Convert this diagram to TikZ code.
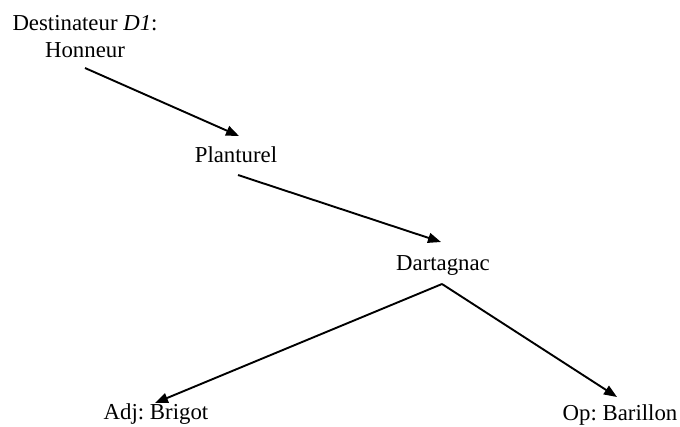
\documentclass[tikz,border=0pt]{standalone}
\usepackage{fontspec}
\setmainfont{Liberation Serif}
\usetikzlibrary{arrows.meta}
\frenchspacing
\begin{document}
\begin{tikzpicture}[x=1pt,y=-1pt,
  lbl/.style={anchor=base,inner sep=0pt,font=\fontsize{22.8}{27}\selectfont},
  conn/.style={line width=1.9pt,-{Triangle[length=13pt,width=10pt]}}]
\useasboundingbox (0,0) rectangle (680,426);
\node[lbl] (d1a) at (85,30) {Destinateur \textit{D1}:};
\node[lbl] (d1b) at (85,57) {Honneur};
\node[lbl] (plant) at (236,162) {Planturel};
\node[lbl] (dart) at (443,270) {Dartagnac};
\node[lbl] (brig) at (156,419) {Adj: Brigot};
\node[lbl] (bar) at (620,420) {Op: Barillon};
\coordinate (s1) at (85,68);
\coordinate (e1) at (239,136);
\coordinate (s2) at (238,175);
\coordinate (e2) at (441,242);
\coordinate (apex) at (442,284);
\coordinate (e3) at (155,403);
\coordinate (e4) at (617,397);
\draw[conn] (s1) -- (e1);
\draw[conn] (s2) -- (e2);
\draw[conn] (apex) -- (e3);
\draw[conn] (apex) -- (e4);
\end{tikzpicture}
\end{document}
